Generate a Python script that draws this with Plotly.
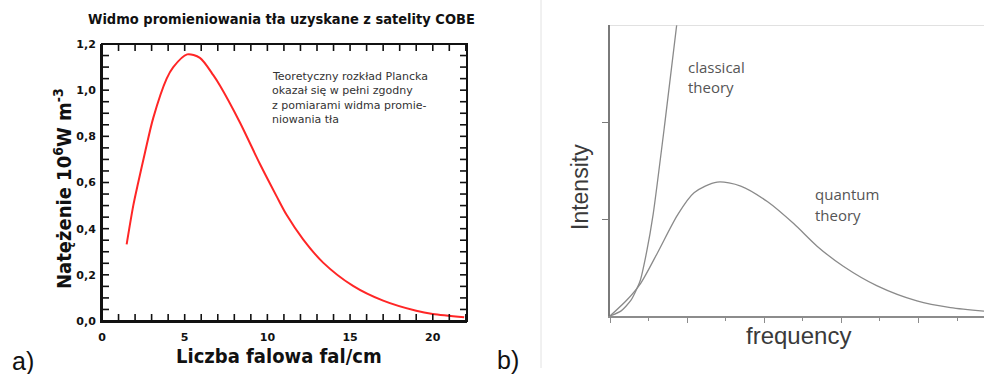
import plotly.graph_objects as go

W, H = 984, 374

# Panel a: COBE background radiation spectrum (wavenumber in 1/cm, intensity)
cobe_wavenumber = [1.49, 1.89, 2.19, 2.60, 3.10, 3.91, 4.31, 5.15, 5.92, 6.73, 7.13,
                   8.34, 9.55, 10.56, 11.16, 12.16, 13.37, 15.18, 17.0, 19.0,
                   20.0, 21.9]
cobe_intensity = [0.332, 0.500, 0.600, 0.730, 0.880, 1.050, 1.100, 1.155, 1.140, 1.065,
                  1.020, 0.860, 0.680, 0.540, 0.460, 0.354, 0.253, 0.152, 0.088,
                  0.044, 0.030, 0.016]

a_xticks = [0, 5, 10, 15, 20]
a_yticks = [0.0, 0.2, 0.4, 0.6, 0.8, 1.0, 1.2]
# every small tick mark on the frame of panel a
a_xminor = [0, 1, 2, 3, 4, 5, 6, 7, 8, 9, 10, 11, 12, 13, 14, 15, 16, 17, 18, 19, 20,
            21, 22]
a_yminor = [0.0, 0.05, 0.1, 0.15, 0.2, 0.25, 0.3, 0.35, 0.4, 0.45, 0.5, 0.55, 0.6,
            0.65, 0.7, 0.75, 0.8, 0.85, 0.9, 0.95, 1.0, 1.05, 1.1, 1.15, 1.2]

# Panel b: quantum (Planck) vs classical (Rayleigh-Jeans) curves
quantum_freq = [0, 0.45, 0.80, 1.23, 1.75, 2.18, 2.78, 3.39, 4.08, 4.77, 5.37, 6.06,
                6.93, 7.96, 8.83, 9.70]
quantum_intensity = [0, 0.17, 0.34, 0.65, 1.04, 1.27, 1.38, 1.34, 1.18, 0.95, 0.72,
                     0.51, 0.31, 0.155, 0.086, 0.05]
classical_freq = [0, 0.28, 0.54, 0.78, 0.95, 1.12, 1.42, 1.73]
classical_intensity = [0, 0.05, 0.16, 0.36, 0.66, 1.05, 1.98, 3.0]

b_yticks = [1, 2]

A_XRANGE = [0, 22.07]
A_YRANGE = [0, 1.2]
FRAME = "#111111"

# Bold tick labels, Polish decimal comma
a_xtick_text = ["<b>%d</b>" % v for v in a_xticks]
a_ytick_text = ["<b>%s</b>" % ("%.1f" % v).replace(".", ",") for v in a_yticks]


def px(x):
    return x / W


def py(y):
    return 1 - y / H


A_LEFT, A_RIGHT = px(102), px(467)
A_BOTTOM, A_TOP = py(321), py(44)

fig = go.Figure()

fig.add_trace(go.Scatter(
    x=cobe_wavenumber, y=cobe_intensity, mode="lines",
    line=dict(color="#ff2626", width=2, shape="spline", smoothing=0.8),
    xaxis="x", yaxis="y", hoverinfo="skip", showlegend=False))

# Inward tick marks of panel a: line markers centred on the frame edges;
# the half that falls outside the plot area is clipped away.
x_edge_ticks = a_xminor + a_xminor
x_edge_vals = [A_YRANGE[0]] * len(a_xminor) + [A_YRANGE[1]] * len(a_xminor)
fig.add_trace(go.Scatter(
    x=x_edge_ticks, y=x_edge_vals, mode="markers", cliponaxis=True,
    marker=dict(symbol="line-ns", size=10, line=dict(color=FRAME, width=1.6)),
    xaxis="x", yaxis="y", hoverinfo="skip", showlegend=False))
y_edge_vals = a_yminor + a_yminor
y_edge_pos = [A_XRANGE[0]] * len(a_yminor) + [A_XRANGE[1]] * len(a_yminor)
fig.add_trace(go.Scatter(
    x=y_edge_pos, y=y_edge_vals, mode="markers", cliponaxis=True,
    marker=dict(symbol="line-ew", size=10, line=dict(color=FRAME, width=1.6)),
    xaxis="x", yaxis="y", hoverinfo="skip", showlegend=False))

fig.add_trace(go.Scatter(
    x=classical_freq, y=classical_intensity, mode="lines",
    line=dict(color="#8a8a8a", width=1.3, shape="spline", smoothing=0.6),
    xaxis="x2", yaxis="y2", hoverinfo="skip", showlegend=False))

fig.add_trace(go.Scatter(
    x=quantum_freq, y=quantum_intensity, mode="lines",
    line=dict(color="#8a8a8a", width=1.3, shape="spline", smoothing=0.8),
    xaxis="x2", yaxis="y2", hoverinfo="skip", showlegend=False))

tick_font = dict(family="DejaVu Sans", size=11, color="#111111")

fig.update_layout(
    width=W, height=H,
    autosize=False,
    margin=dict(l=0, r=0, t=0, b=0, pad=0, autoexpand=False),
    paper_bgcolor="white", plot_bgcolor="rgba(0,0,0,0)",
    showlegend=False,
    # panel a: labels only, the box is a shape drawn below
    xaxis=dict(
        domain=[A_LEFT, A_RIGHT], range=A_XRANGE, anchor="y", side="bottom",
        tickmode="array", tickvals=a_xticks, ticktext=a_xtick_text, ticks="",
        showline=True, linecolor=FRAME, linewidth=2,
        showgrid=False, zeroline=False, tickfont=tick_font, ticklabelstandoff=5,
        fixedrange=True),
    yaxis=dict(
        domain=[A_BOTTOM, A_TOP], range=A_YRANGE, anchor="x", side="left",
        tickmode="array", tickvals=a_yticks, ticktext=a_ytick_text, ticks="",
        showline=True, linecolor=FRAME, linewidth=2,
        showgrid=False, zeroline=False, tickfont=tick_font, ticklabelstandoff=2,
        fixedrange=True),
    # panel b
    xaxis2=dict(
        domain=[px(610), 1.0], range=[0, 9.7],
        tickmode="linear", tick0=0, dtick=2,
        ticks="outside", ticklen=5, tickwidth=1.2, tickcolor="#8c8c8c",
        minor=dict(tickmode="linear", dtick=1, ticks="outside", ticklen=3, tickwidth=1.2,
                   tickcolor="#8c8c8c"),
        showticklabels=False, showline=True, linecolor="#8c8c8c", linewidth=2,
        showgrid=False, zeroline=False, anchor="y2", fixedrange=True),
    yaxis2=dict(
        domain=[py(316), py(25)], range=[0, 3],
        tickvals=b_yticks, ticks="outside", ticklen=6, tickwidth=1.2, tickcolor="#7a7a7a",
        showticklabels=False, showline=True, linecolor="#7a7a7a", linewidth=2,
        showgrid=False, zeroline=False, anchor="x2", fixedrange=True),
)

# Box around panel a
fig.add_shape(type="rect", xref="paper", yref="paper",
              x0=A_LEFT, x1=A_RIGHT, y0=A_BOTTOM, y1=A_TOP,
              line=dict(color=FRAME, width=2), fillcolor="rgba(0,0,0,0)", layer="above")

# Light frame line across the top of panel b
fig.add_shape(type="line", xref="x2", yref="y2", x0=0, x1=9.7, y0=3, y1=3,
              line=dict(color="#c4c4c4", width=1))

# Thin divider between the two panels
fig.add_shape(type="line", xref="paper", yref="paper",
              x0=px(541), x1=px(541), y0=py(368), y1=1,
              line=dict(color="#e2e2e2", width=1))

annotations = []


def text(x, y, s, size, family, color="#111111", angle=0,
         xanchor="center", yanchor="middle"):
    annotations.append(dict(
        x=px(x), y=py(y), xref="paper", yref="paper", text=s, showarrow=False,
        xanchor=xanchor, yanchor=yanchor, textangle=angle,
        font=dict(family=family, size=size, color=color)))


# Panel a texts
text(281.5, 19, "<b>Widmo promieniowania tła uzyskane z satelity COBE</b>", 14.5,
     "DejaVu Sans Condensed")
text(279, 356, "<b>Liczba falowa fal/cm</b>", 20, "DejaVu Sans Condensed")
text(63, 189, "<b>Natężenie 10<sup>6</sup>W m<sup>-3</sup></b>", 20,
     "DejaVu Sans Condensed", angle=-90)
note_lines = ["Teoretyczny rozkład Plancka", "okazał się w pełni zgodny",
              "z pomiarami widma promie-", "niowania tła"]
for i, line in enumerate(note_lines):
    text(270, 76 + i * 14.6, line, 11, "DejaVu Sans", color="#333333", xanchor="left")

# Panel labels
text(22.5, 361, "a)", 25, "Liberation Sans")
text(507.5, 360, "b)", 25, "Liberation Sans")

# Panel b texts
text(580, 187, "Intensity", 23, "Liberation Sans", color="#3a3a3a", angle=-90)
text(798.7, 335, "frequency", 24, "Liberation Sans", color="#3a3a3a")
text(686, 66.7, "classical", 15, "Open Sans", color="#555555", xanchor="left")
text(686, 87.5, "theory", 15, "Open Sans", color="#555555", xanchor="left")
text(813, 194, "quantum", 15, "Open Sans", color="#555555", xanchor="left")
text(813, 215, "theory", 15, "Open Sans", color="#555555", xanchor="left")

fig.update_layout(annotations=annotations)

fig.write_html(
    "out.html",
    post_script="document.body.style.margin='0';document.body.style.overflow='hidden';")
